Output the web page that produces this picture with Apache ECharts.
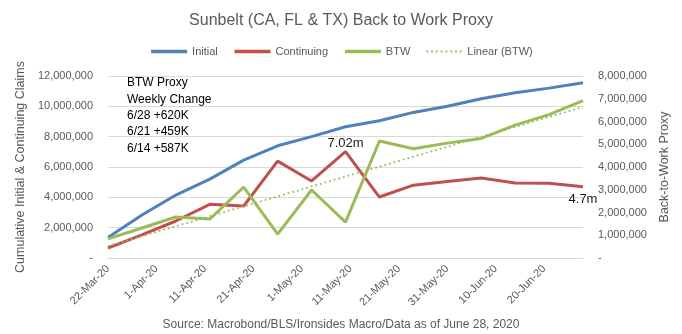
<!DOCTYPE html>
<html><head><meta charset="utf-8">
<script src="https://cdn.jsdelivr.net/npm/echarts@6/dist/echarts.min.js"></script>
<style>html,body{margin:0;padding:0;background:#fff}#c{width:682px;height:334px}</style>
</head><body><div id="c"></div>
<script>
const dates = ['2020-03-22','2020-03-29','2020-04-05','2020-04-12','2020-04-19','2020-04-26','2020-05-03','2020-05-10','2020-05-17','2020-05-24','2020-05-31','2020-06-07','2020-06-14','2020-06-21','2020-06-28'];
const initial = [1350000, 2830000, 4150000, 5200000, 6450000, 7400000, 8000000, 8650000, 9050000, 9600000, 10000000, 10500000, 10900000, 11200000, 11550000];
const continuing = [660000, 1520000, 2440000, 3540000, 3430000, 6390000, 5080000, 7020000, 4020000, 4800000, 5050000, 5270000, 4950000, 4930000, 4700000];
const btw = [840000, 1320000, 1800000, 1710000, 3120000, 1050000, 2990000, 1580000, 5140000, 4800000, 5050000, 5254000, 5841000, 6300000, 6920000];
const boxLines = ['BTW Proxy', 'Weekly Change', '6/28 +620K', '6/21 +459K', '6/14 +587K'];
const labelled = {7: 'top', 14: 'bottom'};

const DAY = 86400000;
const t0 = Date.parse(dates[0]);
const days = dates.map(d => (Date.parse(d) - t0) / DAY);
const MON = ['Jan','Feb','Mar','Apr','May','Jun','Jul','Aug','Sep','Oct','Nov','Dec'];
function fmtDate(v) {
  const d = new Date(t0 + v * DAY);
  return d.getUTCDate() + '-' + MON[d.getUTCMonth()] + '-' + String(d.getUTCFullYear()).slice(2);
}
function fmtNum(v) { return v === 0 ? '-' : v.toLocaleString('en-US'); }

// least-squares linear trend of BTW (as Excel's Linear trendline)
const n = btw.length;
const mx = days.reduce((a, b) => a + b, 0) / n;
const my = btw.reduce((a, b) => a + b, 0) / n;
let sxy = 0, sxx = 0;
for (let i = 0; i < n; i++) { sxy += (days[i] - mx) * (btw[i] - my); sxx += (days[i] - mx) ** 2; }
const slope = sxy / sxx, icpt = my - slope * mx;
const trend = days.map(d => [d, icpt + slope * d]);

const FONT = 'Liberation Sans';
const GRAY = '#595959';
const chart = echarts.init(document.getElementById('c'), null, {renderer: 'canvas'});
chart.setOption({
  animation: false,
  textStyle: {fontFamily: FONT},
  title: {
    text: 'Sunbelt (CA, FL & TX) Back to Work Proxy',
    left: 'center', top: 8,
    textStyle: {fontFamily: FONT, fontSize: 16, fontWeight: 'normal', color: GRAY}
  },
  legend: {
    top: 41, left: 'center', itemWidth: 36, itemHeight: 8, itemGap: 15,
    itemStyle: {opacity: 0},
    textStyle: {fontFamily: FONT, fontSize: 11, color: GRAY},
    data: [
      {name: 'Initial', lineStyle: {width: 3.5}},
      {name: 'Continuing', lineStyle: {width: 3.5}},
      {name: 'BTW', lineStyle: {width: 3.5}},
      {name: 'Linear (BTW)'}
    ]
  },
  grid: {left: 108, right: 99, top: 76, bottom: 76},
  xAxis: {
    type: 'value', min: 0, max: 98, interval: 10,
    axisLine: {lineStyle: {color: '#d9d9d9'}},
    axisTick: {show: false},
    splitLine: {show: false},
    axisLabel: {rotate: 45, margin: 9, fontSize: 11, color: GRAY, showMaxLabel: false, formatter: fmtDate}
  },
  yAxis: [{
    type: 'value', min: 0, max: 12000000, interval: 2000000,
    name: 'Cumulative Initial & Continuing Claims', nameLocation: 'middle', nameGap: 76,
    nameTextStyle: {fontFamily: FONT, fontSize: 12.5, color: GRAY},
    axisLine: {show: false}, axisTick: {show: false},
    splitLine: {lineStyle: {color: '#d9d9d9'}},
    axisLabel: {margin: 15, fontSize: 11, color: GRAY, formatter: fmtNum}
  }, {
    type: 'value', min: 0, max: 8000000, interval: 1000000,
    name: 'Back-to-Work Proxy', nameLocation: 'middle', nameGap: 73, nameRotate: 90,
    nameTextStyle: {fontFamily: FONT, fontSize: 12.5, color: GRAY},
    axisLine: {show: false}, axisTick: {show: false},
    splitLine: {show: false},
    axisLabel: {margin: 15, fontSize: 11, color: GRAY, formatter: fmtNum}
  }],
  series: [{
    name: 'Initial', type: 'line', yAxisIndex: 0, symbol: 'none',
    lineStyle: {color: '#4f81bd', width: 3}, itemStyle: {color: '#4f81bd'},
    data: days.map((d, i) => [d, initial[i]])
  }, {
    name: 'Continuing', type: 'line', yAxisIndex: 0, symbol: 'circle', symbolSize: 0, showSymbol: true,
    lineStyle: {color: '#c0504d', width: 3}, itemStyle: {color: '#c0504d'},
    data: days.map((d, i) => labelled[i] ? {
      value: [d, continuing[i]],
      label: {show: true, position: labelled[i], distance: labelled[i] === 'top' ? 2 : 6, fontSize: 13, color: '#1a1a1a',
        formatter: p => (p.value[1] / 1e6) + 'm'}
    } : [d, continuing[i]])
  }, {
    name: 'BTW', type: 'line', yAxisIndex: 1, symbol: 'none',
    lineStyle: {color: '#9bbb59', width: 3}, itemStyle: {color: '#9bbb59'},
    data: days.map((d, i) => [d, btw[i]])
  }, {
    name: 'Linear (BTW)', type: 'line', yAxisIndex: 1, symbol: 'none',
    lineStyle: {color: '#9bbb59', width: 1.8, type: [1.8, 3]}, itemStyle: {color: '#9bbb59'},
    data: trend
  }],
  graphic: [{
    type: 'text', left: 127, top: 75,
    style: {text: boxLines.join('\n'), fontFamily: FONT, fontSize: 12, lineHeight: 16.3, fill: '#000'}
  }, {
    type: 'text', left: 'center', top: 319,
    style: {text: 'Source: Macrobond/BLS/Ironsides Macro/Data as of June 28, 2020', fontFamily: FONT, fontSize: 12, fill: GRAY}
  }]
});
</script></body></html>
